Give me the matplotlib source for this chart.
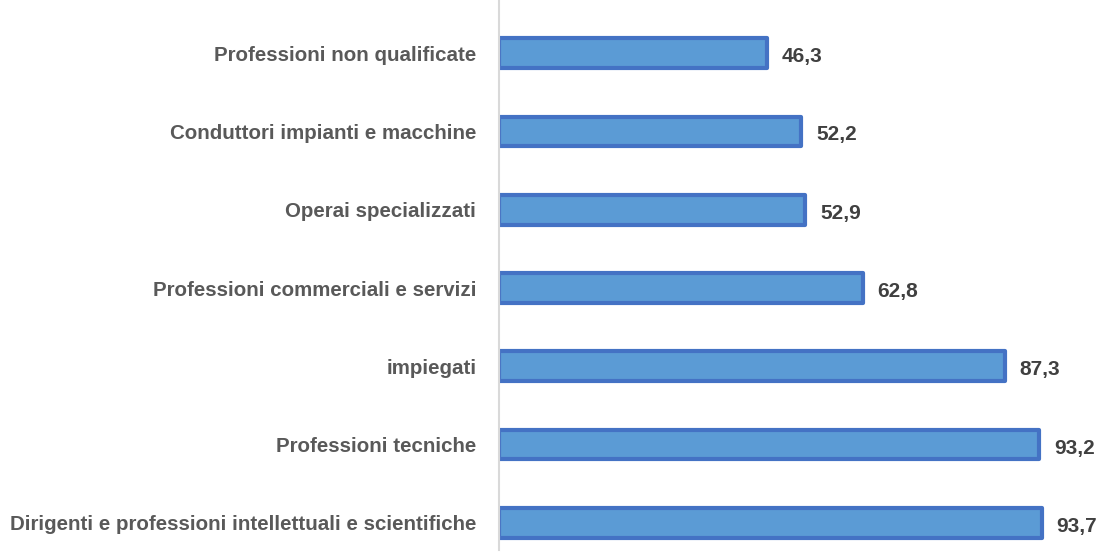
import matplotlib.pyplot as plt

categories = [
    "Dirigenti e professioni intellettuali e scientifiche",
    "Professioni tecniche",
    "impiegati",
    "Professioni commerciali e servizi",
    "Operai specializzati",
    "Conduttori impianti e macchine",
    "Professioni non qualificate",
]
values = [93.7, 93.2, 87.3, 62.8, 52.9, 52.2, 46.3]
value_labels = ["93,7", "93,2", "87,3", "62,8", "52,9", "52,2", "46,3"]

plt.rcParams['font.family'] = ['Liberation Sans', 'DejaVu Sans']

fig = plt.figure(figsize=(10.99, 5.55), dpi=100)
ax = fig.add_axes([498.5 / 1099, 0, 1 - 498.5 / 1099, 1])

y = list(range(len(categories)))
ax.barh(y, values, height=0.38, color="#5B9BD5", edgecolor="#4472C4",
        linewidth=3, joinstyle="round")

for yi, v, lab in zip(y, values, value_labels):
    ax.annotate(lab, (v, yi), xytext=(10.5, -2.5), textcoords="offset points",
                ha="left", va="center", fontsize=15, fontweight="bold",
                color="#404040")

ax.set_xlim(0, 103.5)
ax.set_ylim(-0.41, 6.68)
ax.set_yticks(y)
ax.set_yticklabels(categories, fontsize=14.8, fontweight="bold", color="#595959")
ax.tick_params(axis="y", length=0, pad=16)
ax.set_xticks([])
for s in ["top", "right", "bottom"]:
    ax.spines[s].set_visible(False)
ax.spines["left"].set_color("#D9D9D9")
ax.spines["left"].set_linewidth(1.5)
ax.spines["left"].set_bounds(-0.35, 6.68)

fig.savefig("out.png", dpi=100)
